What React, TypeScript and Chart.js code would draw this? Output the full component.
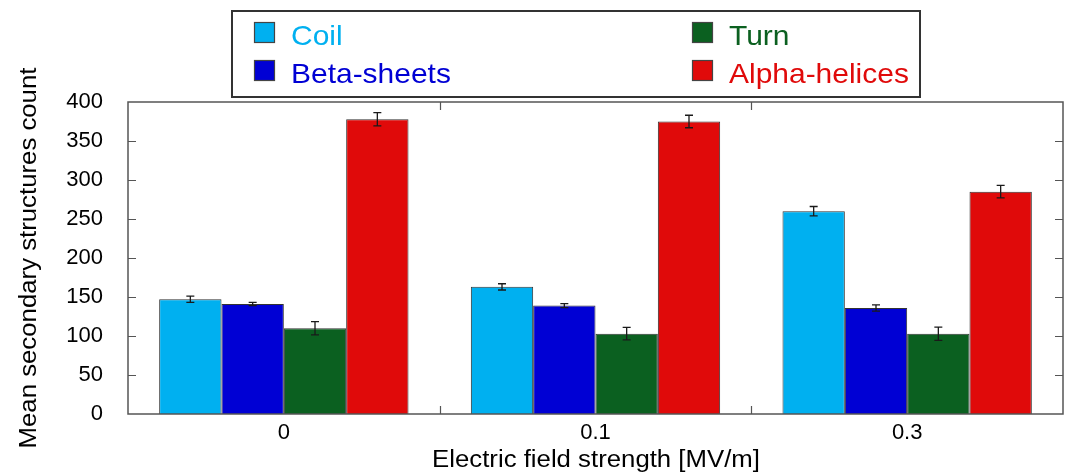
import React, { useEffect, useRef } from "react";
import { Chart, registerables } from "chart.js";

Chart.register(...registerables);

const categories = ["0", "0.1", "0.3"];
const seriesNames = ["Coil", "Beta-sheets", "Turn", "Alpha-helices"];
const seriesColors = ["#00B0F0", "#0000D4", "#0B6020", "#E00A0A"];
const coil = [147, 163, 260];
const coilErr = [4, 4, 6];
const beta = [141, 139, 136];
const betaErr = [2, 2.5, 4];
const turn = [110, 103, 103];
const turnErr = [8.5, 8, 8.5];
const alpha = [378, 375, 285];
const alphaErr = [8.5, 8, 8];
const yTicks = [0, 50, 100, 150, 200, 250, 300, 350, 400];

const values = [coil, beta, turn, alpha];
const errors = [coilErr, betaErr, turnErr, alphaErr];

const FONT = "'Liberation Sans', Arial, sans-serif";

function stretchedText(ctx: CanvasRenderingContext2D, text: string, x: number, y: number, sx: number) {
  ctx.save();
  ctx.translate(x, y);
  ctx.scale(sx, 1);
  ctx.fillText(text, 0, 0);
  ctx.restore();
}

const decorPlugin = {
  id: "decor",
  afterDatasetsDraw(chart: any) {
    const ctx: CanvasRenderingContext2D = chart.ctx;
    const { left, right, top, bottom } = chart.chartArea;
    const yScale = chart.scales.y;
    const xScale = chart.scales.x;
    ctx.save();
    // error bars
    ctx.strokeStyle = "#1a1a1a";
    ctx.lineWidth = 1.3;
    values.forEach((vals, i) => {
      const meta = chart.getDatasetMeta(i);
      vals.forEach((v, j) => {
        const bar = meta.data[j];
        const e = errors[i][j];
        const x = bar.x;
        const y1 = yScale.getPixelForValue(v + e);
        const y2 = yScale.getPixelForValue(v - e);
        ctx.beginPath();
        ctx.moveTo(x, y1);
        ctx.lineTo(x, y2);
        ctx.moveTo(x - 4, y1);
        ctx.lineTo(x + 4, y1);
        ctx.moveTo(x - 4, y2);
        ctx.lineTo(x + 4, y2);
        ctx.stroke();
      });
    });
    // frame
    ctx.strokeStyle = "#555";
    ctx.lineWidth = 1.5;
    ctx.strokeRect(left, top, right - left, bottom - top);
    // y ticks (inward, both sides)
    ctx.lineWidth = 1.2;
    yTicks.forEach((v) => {
      if (v === 0 || v === 400) return;
      const y = Math.round(yScale.getPixelForValue(v)) + 0.5;
      ctx.beginPath();
      ctx.moveTo(left, y);
      ctx.lineTo(left + 8, y);
      ctx.moveTo(right, y);
      ctx.lineTo(right - 8, y);
      ctx.stroke();
    });
    // x boundary ticks
    for (let k = 0; k < categories.length - 1; k++) {
      const x = Math.round((xScale.getPixelForValue(k) + xScale.getPixelForValue(k + 1)) / 2) + 0.5;
      ctx.beginPath();
      ctx.moveTo(x, bottom);
      ctx.lineTo(x, bottom - 8);
      ctx.moveTo(x, top);
      ctx.lineTo(x, top + 8);
      ctx.stroke();
    }
    // legend
    ctx.strokeStyle = "#333";
    ctx.lineWidth = 2;
    ctx.strokeRect(232, 11, 688, 86);
    const legendPos = [
      [254, 22, 291, 45],
      [254, 60, 291, 83],
      [692, 22, 729, 45],
      [692, 60, 729, 83],
    ];
    ctx.font = `28px ${FONT}`;
    ctx.textBaseline = "alphabetic";
    ctx.textAlign = "left";
    seriesNames.forEach((name, i) => {
      const [sx, sy, tx, ty] = legendPos[i];
      ctx.fillStyle = seriesColors[i];
      ctx.fillRect(sx, sy, 21, 21);
      ctx.strokeStyle = "#444";
      ctx.lineWidth = 1.2;
      ctx.strokeRect(sx + 0.5, sy + 0.5, 20, 20);
      ctx.fillStyle = seriesColors[i];
      stretchedText(ctx, name, tx, ty, 1.07);
    });
    // axis titles
    ctx.fillStyle = "#000";
    ctx.font = `23px ${FONT}`;
    ctx.textAlign = "center";
    ctx.textBaseline = "middle";
    stretchedText(ctx, "Electric field strength [MV/m]", 596, 461, 1.12);
    ctx.save();
    ctx.translate(30, 258);
    ctx.rotate(-Math.PI / 2);
    stretchedText(ctx, "Mean secondary structures count", 0, 0, 1.12);
    ctx.restore();
    ctx.restore();
  },
};

export default function App() {
  const ref = useRef<HTMLCanvasElement | null>(null);
  useEffect(() => {
    if (!ref.current) return;
    const chart = new Chart(ref.current, {
      type: "bar",
      data: {
        labels: categories,
        datasets: seriesNames.map((name, i) => ({
          label: name,
          data: values[i],
          backgroundColor: seriesColors[i],
          borderColor: "#333",
          borderWidth: 1,
          categoryPercentage: 0.8,
          barPercentage: 1.0,
        })),
      },
      options: {
        responsive: false,
        animation: false,
        layout: { padding: { top: 102, right: 2, left: 0, bottom: 0 } },
        plugins: { legend: { display: false }, tooltip: { enabled: false } },
        scales: {
          x: {
            grid: { display: false, drawTicks: false },
            border: { display: false },
            ticks: { color: "#000", font: { family: FONT, size: 22 }, padding: 6 },
            afterFit: (s: any) => {
              s.height = 61;
            },
          },
          y: {
            min: 0,
            max: 400,
            afterBuildTicks: (s: any) => {
              s.ticks = yTicks.map((v) => ({ value: v }));
            },
            grid: { display: false, drawTicks: false },
            border: { display: false },
            ticks: { color: "#000", font: { family: FONT, size: 22 }, padding: 25 },
            afterFit: (s: any) => {
              s.width = 128;
            },
          },
        },
      },
      plugins: [decorPlugin],
    });
    return () => chart.destroy();
  }, []);
  return (
    <div style={{ position: "fixed", left: 0, top: 0, width: 1065, height: 475, background: "#fff" }}>
      <canvas ref={ref} width={1065} height={475} style={{ width: 1065, height: 475 }} />
    </div>
  );
}
